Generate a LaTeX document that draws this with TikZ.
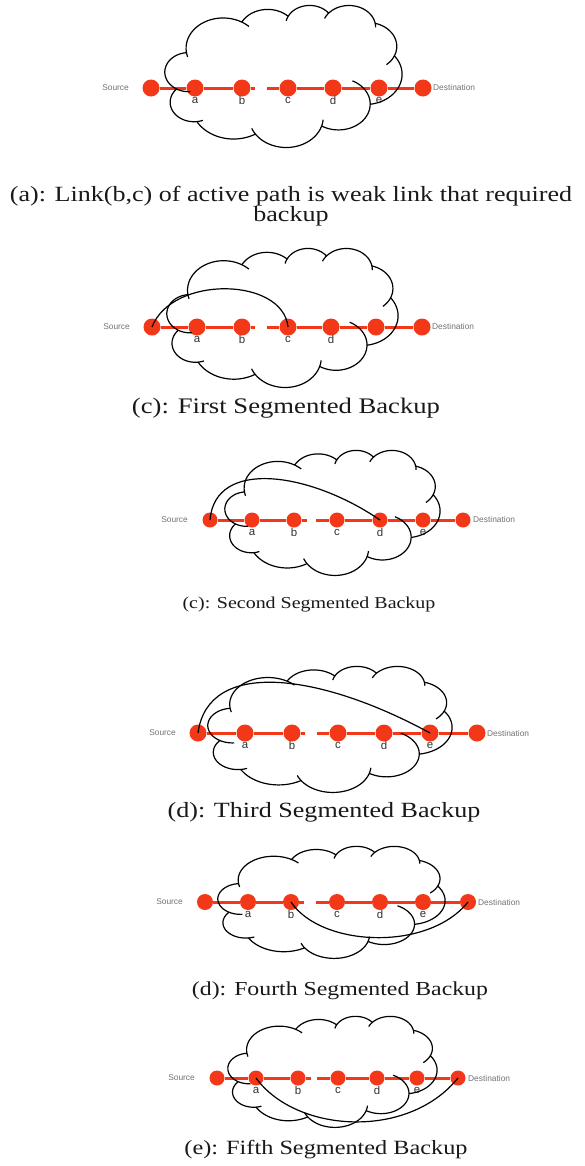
\documentclass[tikz,border=0pt]{standalone}
\usepackage{fontspec}
\setmainfont{Liberation Serif}
\newfontfamily\lblfont{Liberation Sans}
\newfontfamily\capfont[FakeStretch=1.2]{Liberation Serif}
\usetikzlibrary{calc}

\definecolor{linkred}{RGB}{242,56,24}
\definecolor{capgray}{RGB}{25,25,25}

\tikzset{
  netnode/.style={circle, fill=linkred, minimum size=#1, inner sep=0pt},
  netnode/.default=16bp,
  link/.style={draw=linkred, line width=3bp},
  cloudline/.style={draw=black, line width=1.2bp, line join=round},
  backup/.style={draw=black, line width=1.2bp},
  nodelbl/.style={font=\lblfont\fontsize{11.5}{12}\selectfont, text=black!80, inner sep=0pt},
  endlbl/.style={font=\lblfont\fontsize{8.4}{9}\selectfont, text=black!55, inner sep=0pt},
  caption/.style={font=\capfont\fontsize{#1}{#1}\selectfont, text=capgray, inner sep=0pt}
}

% elliptic lobe: centre x, centre y, radii, parameter range
\newcommand\lobe[6]{plot[domain=#5:#6, samples=24, variable=\t]
  ({#1+#3*cos(\t)},{#2+#4*sin(\t)})}
% the same lobe, joined to the path so far
\newcommand\lobeto[6]{-- plot[domain=#5:#6, samples=24, variable=\t]
  ({#1+#3*cos(\t)},{#2+#4*sin(\t)})}

% cloud in a 100x100 box: left, top, x-scale, y-scale
\newcommand\netcloud[4]{%
\begin{scope}[shift={(#1,#2)}, x=#3bp, y=-#4bp]
\draw[cloudline]
 \lobe{24.518}{30.397}{15.632}{21.273}{172.255}{300.36}
 \lobeto{43.318}{19.932}{12.345}{16.822}{-152.02}{-45.45}
 \lobeto{61.020}{14.084}{10.104}{13.762}{-153.50}{-37.33}
 \lobeto{77.632}{15.611}{11.243}{15.266}{-139.71}{-10.21}
 \lobeto{85.454}{29.150}{12.345}{16.836}{-74.77}{23.21}
 \lobeto{84.361}{48.785}{15.683}{21.343}{-37.52}{81.86}
 \lobeto{73.191}{69.767}{13.391}{18.211}{0.46}{121.98}
 \lobeto{51.139}{79.034}{15.630}{21.331}{16.84}{146.22}
 \lobeto{28.942}{69.977}{17.870}{24.405}{58.99}{150.20}
 \lobeto{12.259}{68.500}{10.093}{13.699}{83.31}{223.10}
 \lobeto{9.972}{47.269}{10.058}{13.762}{120.36}{264.11}
 -- cycle;
% short inner strokes where the lobes meet
\draw[cloudline]
 \lobe{9.972}{47.269}{10.058}{13.762}{85.55}{120.36}
 \lobe{12.259}{68.500}{10.093}{13.699}{68.24}{83.31}
 \lobe{51.139}{79.034}{15.630}{21.331}{146.22}{158.47}
 \lobe{51.139}{79.034}{15.630}{21.331}{4.74}{16.84}
 \lobe{73.191}{69.767}{13.391}{18.211}{-64.03}{0.46}
 \lobe{85.454}{29.150}{12.345}{16.836}{23.21}{49.66}
 \lobe{77.632}{15.611}{11.243}{15.266}{-10.21}{0.82}
 \lobe{77.632}{15.611}{11.243}{15.266}{-156.28}{-139.71}
 \lobe{61.020}{14.084}{10.104}{13.762}{-167.73}{-153.50}
 \lobe{24.518}{30.397}{15.632}{21.273}{-59.64}{-45.73}
 \lobe{24.518}{30.397}{15.632}{21.273}{163.19}{172.255};
\end{scope}}

% a row of nodes: prefix, y, then x of Source, a, b, c, d, e, Destination
\newcommand\netrow[9]{%
  \node[netnode=\rowsize] (#1S) at (#3,#2) {};
  \node[netnode=\rowsize] (#1a) at (#4,#2) {};
  \node[netnode=\rowsize] (#1b) at (#5,#2) {};
  \node[netnode=\rowsize] (#1c) at (#6,#2) {};
  \node[netnode=\rowsize] (#1d) at (#7,#2) {};
  \node[netnode=\rowsize] (#1e) at (#8,#2) {};
  \node[netnode=\rowsize] (#1D) at (#9,#2) {};
  \coordinate (#1gb) at ($(#1b)+(13,0)$);
  \coordinate (#1gc) at ($(#1c)+(-21,0)$);
  \draw[link] (#1S) -- (#1a) -- (#1b) -- (#1gb);
  \draw[link] (#1gc) -- (#1c) -- (#1d) -- (#1e) -- (#1D);
  \node[endlbl, anchor=east] (#1src) at ($(#1S)+(-22,0)$) {Source};
  \node[endlbl, anchor=west] (#1dst) at ($(#1D)+(10,0)$) {Destination};
}
\newcommand\rowsize{17bp}
% letter under a node
\newcommand\nodename[2]{\node[nodelbl] (#1l) at ($(#1)+(0,12.5)$) {#2};}

\begin{document}
\begin{tikzpicture}[x=1bp, y=-1bp]
\useasboundingbox[fill=white] (0,0) rectangle (585,1166);

% (a) active path
\netrow{p1}{88}{151}{195}{242}{288}{333}{379}{423}
\nodename{p1a}{a}\nodename{p1b}{b}\nodename{p1c}{c}\nodename{p1d}{d}\nodename{p1e}{e}
\netcloud{165}{5}{2.37}{1.42}
\node[caption=21.8] (capa1) at (291,196) {(a): Link(b,c) of active path is weak link that required};
\node[caption=21.8] (capa2) at (291,216) {backup};

% first segmented backup
\netrow{p2}{327}{152}{197}{242}{288}{331}{376}{422}
\nodename{p2a}{a}\nodename{p2b}{b}\nodename{p2c}{c}\nodename{p2d}{d}
\netcloud{167}{248}{2.31}{1.39}
\draw[backup] (p2S.center) .. controls +(20,-52) and +(-5,-50) .. (p2c.center);
\node[caption=22.3] (capb) at (286,408) {(c): First Segmented Backup};

% second segmented backup
\renewcommand\rowsize{15bp}
\netrow{p3}{520}{210}{252}{294}{337}{380}{423}{463}
\nodename{p3a}{a}\nodename{p3b}{b}\nodename{p3c}{c}\nodename{p3d}{d}\nodename{p3e}{e}
\netcloud{225}{450}{2.15}{1.25}
\draw[backup] (p3S.center) .. controls +(5,-62) and +(-70,-48) .. (p3d.center);
\node[caption=16.7] (capc) at (309,605) {(c): Second Segmented Backup};

% third segmented backup
\renewcommand\rowsize{17bp}
\netrow{p4}{733}{198}{245}{292}{338}{384}{430}{477}
\nodename{p4a}{a}\nodename{p4b}{b}\nodename{p4c}{c}\nodename{p4d}{d}\nodename{p4e}{e}
\netcloud{208}{666}{2.44}{1.26}
\draw[backup] (p4S.center) .. controls +(10,-75) and +(-110,-60) .. (p4e.center);
\node[caption=21.8] (capd) at (324,812) {(d): Third Segmented Backup};

% fourth segmented backup
\renewcommand\rowsize{16bp}
\netrow{p5}{902}{205}{248}{291}{337}{380}{423}{468}
\nodename{p5a}{a}\nodename{p5b}{b}\nodename{p5c}{c}\nodename{p5d}{d}\nodename{p5e}{e}
\netcloud{218}{846}{2.27}{1.12}
\draw[backup] (p5b.center) .. controls +(30,45) and +(-40,50) .. (p5D.center);
\node[caption=19.9] (cape) at (340,991) {(d): Fourth Segmented Backup};

% fifth segmented backup
\renewcommand\rowsize{15bp}
\netrow{p6}{1078}{217}{256}{298}{338}{377}{417}{458}
\nodename{p6a}{a}\nodename{p6b}{b}\nodename{p6c}{c}\nodename{p6d}{d}\nodename{p6e}{e}
\netcloud{228}{1016}{2.09}{1.11}
\draw[backup] (p6a.center) .. controls +(40,55) and +(-50,62) .. (p6D.center);
\node[caption=20.3] (capf) at (326,1150) {(e): Fifth Segmented Backup};
\end{tikzpicture}
\end{document}
